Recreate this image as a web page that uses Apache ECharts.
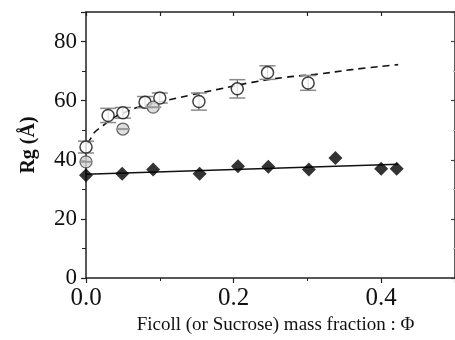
<!DOCTYPE html>
<html>
<head>
<meta charset="utf-8">
<script src="https://cdn.jsdelivr.net/npm/echarts@6/dist/echarts.min.js"></script>
<style>
  html, body { margin: 0; padding: 0; background: #fff; }
  #chart { width: 455px; height: 340px; }
</style>
</head>
<body>
<div id="chart"></div>
<script>
// Ficoll: open circles [phi, Rg, yErr]
const ficoll = [
  [0.0, 44.3, 2.0],
  [0.03, 55.0, 2.4],
  [0.05, 55.9, 1.8],
  [0.08, 59.5, 1.9],
  [0.10, 60.9, 1.7],
  [0.153, 59.7, 2.9],
  [0.205, 64.0, 3.1],
  [0.246, 69.5, 2.3],
  [0.301, 66.0, 2.5]
]
// grey crossed circles [phi, Rg, xErr]
const ficollAlt = [
  [0.0, 39.3, 0.008],
  [0.05, 50.4, 0.0095],
  [0.091, 57.8, 0.011]
]
// dashed fit
const ficollFit = [
  [0.002, 45.5], [0.0077, 47.7], [0.012, 49.4], [0.0233, 51.6], [0.04, 54.6],
  [0.059, 56.7], [0.0705, 57.8], [0.113, 60.3], [0.14, 61.8], [0.18, 63.9],
  [0.225, 66.2], [0.27, 67.9], [0.315, 69.0], [0.36, 70.5], [0.423, 72.2]
]
// Sucrose: filled diamonds
const sucrose = [
  [0.0, 34.8], [0.049, 35.3], [0.091, 36.7], [0.154, 35.3], [0.206, 37.8],
  [0.247, 37.6], [0.302, 36.7], [0.338, 40.6], [0.40, 37.0], [0.421, 37.0]
]
const sucroseFit = [[0.0, 35.1], [0.423, 38.5]]

const xTicks = [0, 0.2, 0.4]
const yTicks = [0, 20, 40, 60, 80]

const FONT = '"Liberation Serif", "Times New Roman", serif'
const AXIS_COLOR = '#222'

function vBar(params, api) {
  const x = api.value(0), y = api.value(1), e = api.value(2)
  const hi = api.coord([x, y + e])
  const lo = api.coord([x, y - e])
  const w = 8
  const grey = { stroke: '#8a8a8a', lineWidth: 1.5 }
  return {
    type: 'group',
    children: [
      { type: 'line', shape: { x1: hi[0], y1: hi[1], x2: lo[0], y2: lo[1] }, style: { stroke: '#444', lineWidth: 1 } },
      { type: 'line', shape: { x1: hi[0] - w, y1: hi[1], x2: hi[0] + w, y2: hi[1] }, style: grey },
      { type: 'line', shape: { x1: lo[0] - w, y1: lo[1], x2: lo[0] + w, y2: lo[1] }, style: grey }
    ]
  }
}

function hBar(params, api) {
  const x = api.value(0), y = api.value(1), e = api.value(2)
  const l = api.coord([x - e, y])
  const r = api.coord([x + e, y])
  return {
    type: 'line',
    shape: { x1: l[0], y1: l[1], x2: r[0], y2: r[1] },
    style: { stroke: '#999', lineWidth: 2 }
  }
}

const chart = echarts.init(document.getElementById('chart'), null, { renderer: 'canvas' })

const baseX = {
  type: 'value',
  min: 0,
  max: 0.5,
  splitLine: { show: false },
  axisLine: { show: true, onZero: false, lineStyle: { color: AXIS_COLOR, width: 1.5 } }
}
const baseY = {
  type: 'value',
  min: 0,
  max: 90,
  interval: 20,
  splitLine: { show: false },
  axisLine: { show: true, onZero: false, lineStyle: { color: AXIS_COLOR, width: 1.5 } }
}

chart.setOption({
  animation: false,
  backgroundColor: '#fff',
  grid: { left: 86, right: 0, top: 12, bottom: 62 },
  xAxis: [
    Object.assign({}, baseX, {
      position: 'bottom',
      interval: 0.2,
      name: 'Ficoll (or Sucrose) mass fraction : \u03A6',
      nameLocation: 'middle',
      nameGap: 35,
      nameTextStyle: { fontFamily: FONT, fontSize: 19, color: '#111', padding: [0, 0, 0, 10] },
      axisTick: { show: true, inside: false, length: 5, lineStyle: { color: AXIS_COLOR, width: 1.2 } },
      minorTick: { show: true, splitNumber: 2, length: 3, lineStyle: { color: AXIS_COLOR, width: 1 } },
      axisLabel: {
        margin: 8,
        fontFamily: FONT,
        fontSize: 25,
        color: '#111',
        showMaxLabel: false,
        formatter: v => (xTicks.some(t => Math.abs(t - v) < 1e-9) ? v.toFixed(1) : '')
      }
    }),
    Object.assign({}, baseX, {
      position: 'top',
      interval: 0.1,
      axisTick: { show: true, inside: true, length: 4, lineStyle: { color: AXIS_COLOR, width: 1.2 } },
      axisLabel: { show: false }
    })
  ],
  yAxis: [
    Object.assign({}, baseY, {
      position: 'left',
      name: 'Rg (\u00C5)',
      nameLocation: 'middle',
      nameGap: 47,
      nameTextStyle: { fontFamily: FONT, fontSize: 20, fontWeight: 'bold', color: '#111' },
      axisTick: { show: true, inside: false, length: 5, lineStyle: { color: AXIS_COLOR, width: 1.2 } },
      minorTick: { show: true, splitNumber: 2, length: 4, lineStyle: { color: AXIS_COLOR, width: 1 } },
      axisLabel: {
        margin: 9,
        fontFamily: FONT,
        fontSize: 23,
        color: '#111',
        showMaxLabel: false,
        formatter: v => (yTicks.indexOf(v) >= 0 ? String(v) : '')
      }
    }),
    Object.assign({}, baseY, {
      position: 'right',
      axisTick: { show: true, inside: true, length: 4, lineStyle: { color: '#444', width: 1.2 } },
      minorTick: { show: true, splitNumber: 2, length: 2, lineStyle: { color: '#bbb', width: 1 } },
      axisLabel: { show: false }
    })
  ],
  series: [
    {
      type: 'line',
      data: ficollFit,
      smooth: 0.4,
      showSymbol: false,
      symbol: 'none',
      lineStyle: { color: '#111', width: 1.6, type: [7, 5] },
      z: 2
    },
    {
      type: 'line',
      data: sucroseFit,
      showSymbol: false,
      symbol: 'none',
      lineStyle: { color: '#111', width: 1.5 },
      z: 2
    },
    {
      type: 'custom',
      data: ficoll,
      renderItem: vBar,
      z: 3
    },
    {
      type: 'scatter',
      data: ficoll.map(d => [d[0], d[1]]),
      symbol: 'circle',
      symbolSize: 12,
      itemStyle: { color: '#fff', borderColor: '#111', borderWidth: 1.5 },
      z: 4
    },
    {
      type: 'scatter',
      data: ficollAlt.map(d => [d[0], d[1]]),
      symbol: 'circle',
      symbolSize: 12,
      itemStyle: { color: '#d6d6d6', borderColor: '#444', borderWidth: 1.3 },
      z: 4
    },
    {
      type: 'custom',
      data: ficollAlt,
      renderItem: hBar,
      z: 5
    },
    {
      type: 'scatter',
      data: sucrose,
      symbol: 'diamond',
      symbolSize: [14, 14],
      itemStyle: { color: '#000' },
      z: 4
    }
  ]
})
</script>
</body>
</html>
